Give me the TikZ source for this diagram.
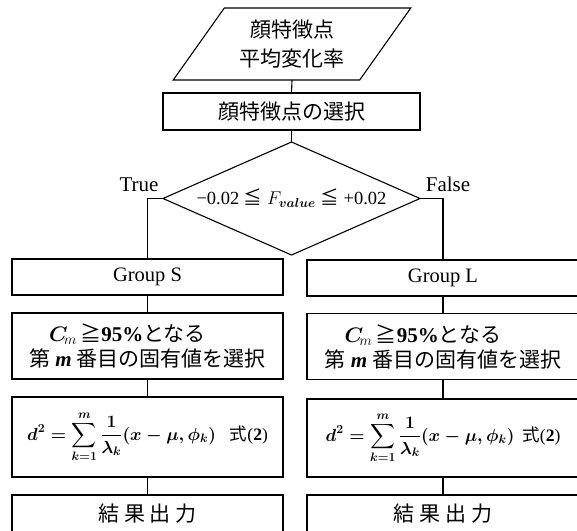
\RequirePackage{fix-cm}
\documentclass[tikz,border=0pt]{standalone}
\usepackage{amsmath,bm}
\usepackage{fontspec}
\setmainfont{Liberation Serif}
\newfontfamily\cjk{Noto Sans CJK JP}
\usetikzlibrary{shapes.geometric}
\begin{document}
\begin{tikzpicture}[x=1pt,y=-1pt,line width=1.1pt,
  box/.style={draw,rectangle,inner sep=0pt,outer sep=0pt},
  jp/.style={font=\cjk\fontsize{21}{29}\selectfont},
  lat/.style={font=\fontsize{20.5}{25}\selectfont},
  lab/.style={font=\fontsize{21}{25}\selectfont,inner sep=0pt},
  mth/.style={font=\fontsize{17.5}{22}\selectfont\boldmath},
  conn/.style={draw,line width=1.1pt}]
\useasboundingbox (0,0) rectangle (577,530);
\clip (0,0) rectangle (577,530);

% input parallelogram
\node[trapezium,trapezium left angle=50.7,trapezium right angle=129.3,
      trapezium stretches=true,draw,minimum width=238pt,minimum height=72pt,
      inner sep=0pt,outer sep=0pt,jp,align=center] (src) at (292,44) {顔特徴点\\平均変化率};

% selection
\node[box,minimum width=257pt,minimum height=37pt,jp] (sel) at (291.5,111.5) {顔特徴点の選択};

% decision
\node[diamond,aspect=2.27,draw,minimum width=257pt,minimum height=113pt,inner sep=0pt,outer sep=0pt,
      font=\fontsize{18.5}{22}\selectfont] (dec) at (291.5,198.5)
      {−0.02 {\cjk ≦} $F_{\bm{value}}$ {\cjk ≦} +0.02};

\node[lab] (tl) at (139,185) {True};
\node[lab] (fl) at (448,184) {False};

% left column
\node[box,minimum width=271pt,minimum height=36pt,lat] (gs) at (147.5,277) {Group S};
\node[box,minimum width=271pt,minimum height=66pt,align=left,
      font=\fontsize{21}{25}\selectfont] (cs) at (147.5,346)
  {\hspace*{20pt}$\bm{C}_{\!m}$\,{\cjk ≧}\textbf{95\%}{\cjk となる}\\
   {\cjk 第} {\bfseries\itshape m} {\cjk 番目の固有値を選択}};
\node[box,minimum width=271pt,minimum height=80pt,mth] (ds) at (147.5,437)
  {$\displaystyle d^2=\sum_{k=1}^{m}\frac{1}{\lambda_k}(x-\mu,\phi_k)$\hspace{14pt}{\cjk 式}(\textbf{2})};
\node[box,minimum width=271pt,minimum height=37pt,jp] (rs) at (147.5,513.5)
  {結\hspace{5pt}果\hspace{5pt}出\hspace{5pt}力};

% right column
\node[box,minimum width=272pt,minimum height=36pt,lat] (gl) at (443,278) {Group L};
\node[box,minimum width=272pt,minimum height=66pt,align=left,
      font=\fontsize{21}{25}\selectfont] (cl) at (443,346.5)
  {\hspace*{20pt}$\bm{C}_{\!m}$\,{\cjk ≧}\textbf{95\%}{\cjk となる}\\
   {\cjk 第} {\bfseries\itshape m} {\cjk 番目の固有値を選択}};
\node[box,minimum width=272pt,minimum height=78pt,mth] (dl) at (443,438)
  {$\displaystyle d^2=\sum_{k=1}^{m}\frac{1}{\lambda_k}(x-\mu,\phi_k)$\hspace{8pt}{\cjk 式}(\textbf{2})};
\node[box,minimum width=272pt,minimum height=37pt,jp] (rl) at (443,513.5)
  {結\hspace{5pt}果\hspace{5pt}出\hspace{5pt}力};

% connectors
\draw[conn] (src.south) -- (sel.north);
\draw[conn] (sel.south) -- (dec.north);
\draw[conn] (dec.west) -| (gs.north);
\draw[conn] (dec.east) -| (gl.north);
\draw[conn] (gs.south) -- (cs.north);
\draw[conn] (cs.south) -- (ds.north);
\draw[conn] (ds.south) -- (rs.north);
\draw[conn] (gl.south) -- (cl.north);
\draw[conn] (cl.south) -- (dl.north);
\draw[conn] (dl.south) -- (rl.north);
\end{tikzpicture}
\end{document}
